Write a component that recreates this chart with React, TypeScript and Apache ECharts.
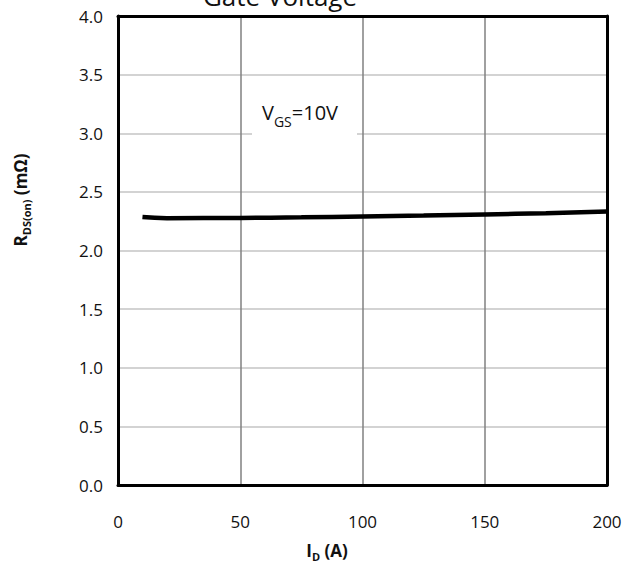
import React, { useEffect, useRef } from "react";
import * as echarts from "echarts";

const currentA = [10, 20, 50, 75, 100, 125, 150, 175, 200];
const rdsOn = [2.285, 2.276, 2.278, 2.283, 2.29, 2.298, 2.308, 2.318, 2.333];
const xTicks = [0, 50, 100, 150, 200];
const yTicks = [0, 0.5, 1, 1.5, 2, 2.5, 3, 3.5, 4];

const FONT = "'Open Sans', sans-serif";
const frame = { show: true, onZero: false, lineStyle: { color: "#000", width: 3 } };

export default function App() {
  const ref = useRef<HTMLDivElement>(null);
  useEffect(() => {
    document.body.style.margin = "0";
    const chart = echarts.init(ref.current!, null, { renderer: "svg" });
    chart.setOption({
      animation: false,
      backgroundColor: "#ffffff",
      grid: { left: 118, right: 20, top: 16, bottom: 89 },
      xAxis: [
        {
          type: "value",
          min: 0,
          max: 200,
          interval: 50,
          axisLine: frame,
          axisTick: { show: false },
          axisLabel: {
            color: "#111",
            fontFamily: FONT,
            fontSize: 17,
            margin: 28,
            formatter: (v: number) => (xTicks.includes(v) ? String(v) : ""),
          },
          splitLine: { show: true, lineStyle: { color: "#808080", width: 1.5 } },
          z: 3,
        },
        {
          type: "value",
          position: "top",
          min: 0,
          max: 200,
          interval: 50,
          axisLine: frame,
          axisTick: { show: false },
          axisLabel: { show: false },
          splitLine: { show: false },
          z: 3,
        },
      ],
      yAxis: [
        {
          type: "value",
          min: 0,
          max: 4,
          interval: 0.5,
          axisLine: frame,
          axisTick: { show: false },
          axisLabel: {
            color: "#111",
            fontFamily: FONT,
            fontSize: 17,
            margin: 15,
            formatter: (v: number) => (yTicks.includes(v) ? v.toFixed(1) : ""),
          },
          splitLine: { show: true, lineStyle: { color: "#c4c4c4", width: 1.5 } },
          z: 3,
        },
        {
          type: "value",
          position: "right",
          min: 0,
          max: 4,
          interval: 0.5,
          axisLine: frame,
          axisTick: { show: false },
          axisLabel: { show: false },
          splitLine: { show: false },
          z: 3,
        },
      ],
      series: [
        {
          type: "line",
          xAxisIndex: 0,
          yAxisIndex: 0,
          data: currentA.map((x, i) => [x, rdsOn[i]]),
          smooth: true,
          showSymbol: false,
          lineStyle: { color: "#000", width: 4.5 },
          z: 5,
        },
      ],
      graphic: [
        {
          type: "text",
          x: 280,
          y: -4,
          z: 100,
          style: {
            text: "Gate Voltage",
            fontFamily: FONT,
            fontSize: 26,
            fill: "#111",
            align: "center",
            verticalAlign: "middle",
          },
        },
        {
          type: "rect",
          z: 100,
          shape: { x: 252, y: 100, width: 105, height: 45 },
          style: { fill: "#ffffff" },
        },
        {
          type: "text",
          x: 262,
          y: 112,
          z: 101,
          style: {
            text: "{m|V}{s|GS}{m|=10V}",
            align: "left",
            verticalAlign: "middle",
            fill: "#111",
            rich: {
              m: { fontFamily: FONT, fontSize: 20, fill: "#111", lineHeight: 26, verticalAlign: "middle" },
              s: { fontFamily: FONT, fontSize: 14, fill: "#111", lineHeight: 26, padding: [18, 0, 0, 0], verticalAlign: "middle" },
            },
          },
        },
        {
          type: "text",
          x: 20,
          y: 200,
          z: 101,
          rotation: Math.PI / 2,
          style: {
            text: "{m|R}{s|DS(on)}{m| (mΩ)}",
            align: "center",
            verticalAlign: "middle",
            fill: "#111",
            rich: {
              m: { fontFamily: FONT, fontSize: 17, fontWeight: "bold", fill: "#111", lineHeight: 24, verticalAlign: "middle" },
              s: { fontFamily: FONT, fontSize: 11, fontWeight: "bold", fill: "#111", lineHeight: 24, padding: [12, 0, 0, 0], verticalAlign: "middle" },
            },
          },
        },
        {
          type: "text",
          x: 327,
          y: 550,
          z: 101,
          style: {
            text: "{m|I}{s|D}{m| (A)}",
            align: "center",
            verticalAlign: "middle",
            fill: "#111",
            rich: {
              m: { fontFamily: FONT, fontSize: 17, fontWeight: "bold", fill: "#111", lineHeight: 24, verticalAlign: "middle" },
              s: { fontFamily: FONT, fontSize: 11, fontWeight: "bold", fill: "#111", lineHeight: 24, padding: [12, 0, 0, 0], verticalAlign: "middle" },
            },
          },
        },
      ],
    });
    return () => chart.dispose();
  }, []);
  return <div ref={ref} style={{ width: 627, height: 574 }} />;
}
